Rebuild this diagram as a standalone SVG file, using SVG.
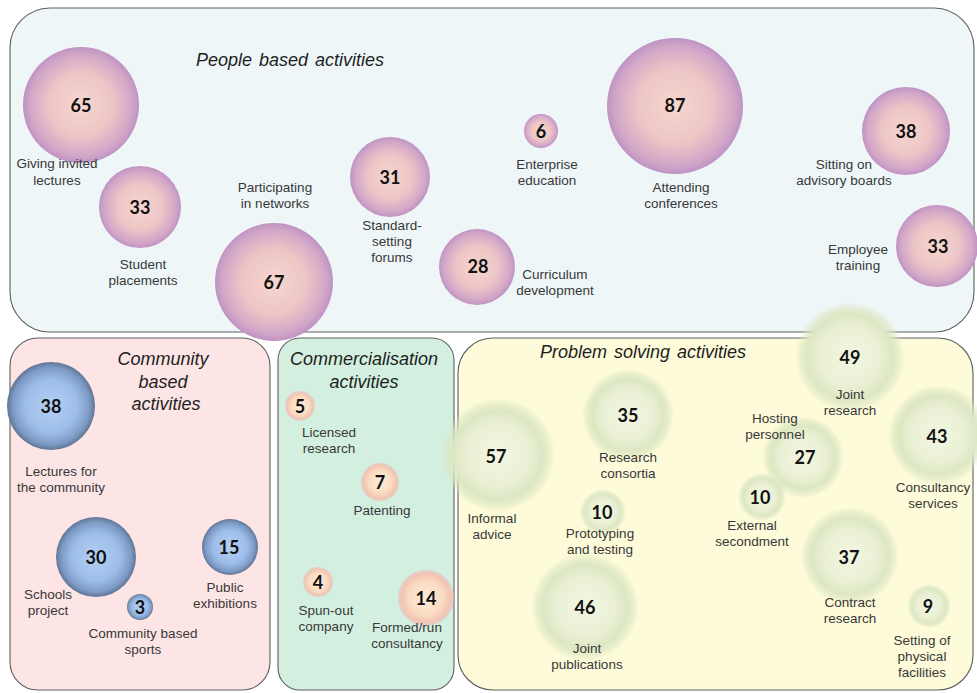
<svg xmlns="http://www.w3.org/2000/svg" width="977" height="693" viewBox="0 0 977 693">
  <defs>
    <radialGradient id="gPeople" cx="0.5" cy="0.5" r="0.5">
      <stop offset="0" stop-color="#f6d6cf"/>
      <stop offset="0.55" stop-color="#edc5c6"/>
      <stop offset="0.88" stop-color="#d2a6c8"/>
      <stop offset="1" stop-color="#bf93c2"/>
    </radialGradient>
    <radialGradient id="gCommunity" cx="0.5" cy="0.5" r="0.5">
      <stop offset="0" stop-color="#b4d0f3"/>
      <stop offset="0.6" stop-color="#9dbde9"/>
      <stop offset="0.88" stop-color="#7c99c4"/>
      <stop offset="1" stop-color="#5f7594"/>
    </radialGradient>
    <radialGradient id="gCommercial" cx="0.5" cy="0.5" r="0.5">
      <stop offset="0" stop-color="#fdecd9"/>
      <stop offset="0.6" stop-color="#fbdcc3"/>
      <stop offset="0.85" stop-color="#f3c6b2"/>
      <stop offset="1" stop-color="#e9bcbc" stop-opacity="0.6"/>
    </radialGradient>
    <radialGradient id="gProblem" cx="0.5" cy="0.5" r="0.5">
      <stop offset="0" stop-color="#f2f6e2"/>
      <stop offset="0.55" stop-color="#eaf0d4"/>
      <stop offset="0.78" stop-color="#dde7c3"/>
      <stop offset="0.9" stop-color="#dbe5c0" stop-opacity="0.55"/>
      <stop offset="1" stop-color="#dbe5c0" stop-opacity="0"/>
    </radialGradient>
  </defs>
  <style>
    .panel { stroke: #5e5e5e; stroke-width: 1.1; }
    .title { font-family: "Liberation Sans", Arial, sans-serif; font-style: italic; font-size: 18px; word-spacing: 2px; fill: #1e1e1e; text-anchor: middle; }
    .num { font-family: Lato, "Open Sans", sans-serif; font-weight: bold; font-size: 18px; fill: #111; text-anchor: middle; }
    .lbl { font-family: "Liberation Sans", Arial, sans-serif; font-size: 13.5px; fill: #383838; text-anchor: middle; }
    .people { fill: url(#gPeople); }
    .community { fill: url(#gCommunity); }
    .commercial { fill: url(#gCommercial); }
    .problem { fill: url(#gProblem); }
  </style>

  <rect width="977" height="693" fill="#ffffff"/>

  <!-- People based activities -->
  <g id="panel-people">
    <rect class="panel" x="10" y="8" width="964" height="324" rx="40" ry="40" fill="#eef6f8"/>
    <text class="title" x="290" y="66">People based activities</text>
  </g>

  <g id="node-invited-lectures">
    <circle class="people" cx="81" cy="105" r="58"/>
    <text class="num" x="81" y="112">65</text>
    <text class="lbl" x="57" y="168">Giving invited</text>
    <text class="lbl" x="57" y="185">lectures</text>
  </g>
  <g id="node-student-placements">
    <circle class="people" cx="140" cy="207" r="41"/>
    <text class="num" x="140" y="214">33</text>
    <text class="lbl" x="143" y="269">Student</text>
    <text class="lbl" x="143" y="285">placements</text>
  </g>
  <g id="node-networks">
    <circle class="people" cx="274" cy="282" r="59"/>
    <text class="num" x="274" y="289">67</text>
    <text class="lbl" x="275" y="192">Participating</text>
    <text class="lbl" x="275" y="208">in networks</text>
  </g>
  <g id="node-standard-setting">
    <circle class="people" cx="390" cy="177" r="40"/>
    <text class="num" x="390" y="184">31</text>
    <text class="lbl" x="392" y="230">Standard-</text>
    <text class="lbl" x="392" y="246">setting</text>
    <text class="lbl" x="392" y="262">forums</text>
  </g>
  <g id="node-curriculum">
    <circle class="people" cx="477" cy="267" r="38"/>
    <text class="num" x="478" y="273">28</text>
    <text class="lbl" x="555" y="279">Curriculum</text>
    <text class="lbl" x="555" y="295">development</text>
  </g>
  <g id="node-enterprise-education">
    <circle class="people" cx="541" cy="131" r="17"/>
    <text class="num" x="541" y="138">6</text>
    <text class="lbl" x="547" y="169">Enterprise</text>
    <text class="lbl" x="547" y="185">education</text>
  </g>
  <g id="node-conferences">
    <circle class="people" cx="675" cy="106" r="68"/>
    <text class="num" x="675" y="112">87</text>
    <text class="lbl" x="681" y="192">Attending</text>
    <text class="lbl" x="681" y="208">conferences</text>
  </g>
  <g id="node-advisory-boards">
    <circle class="people" cx="906" cy="131" r="44"/>
    <text class="num" x="906" y="138">38</text>
    <text class="lbl" x="844" y="169">Sitting on</text>
    <text class="lbl" x="844" y="185">advisory boards</text>
  </g>
  <g id="node-employee-training">
    <circle class="people" cx="937" cy="246" r="41"/>
    <text class="num" x="938" y="253">33</text>
    <text class="lbl" x="858" y="254">Employee</text>
    <text class="lbl" x="858" y="270">training</text>
  </g>

  <!-- Community based activities -->
  <g id="panel-community">
    <rect class="panel" x="10" y="338" width="260" height="352" rx="28" ry="28" fill="#fde5e5"/>
    <text class="title" x="163" y="365">Community</text>
    <text class="title" x="163" y="388">based</text>
    <text class="title" x="166" y="410">activities</text>
  </g>

  <!-- Commercialisation activities -->
  <g id="panel-commercial">
    <rect class="panel" x="278" y="338" width="176" height="352" rx="22" ry="22" fill="#d3efe0"/>
    <text class="title" x="364" y="365">Commercialisation</text>
    <text class="title" x="364" y="388">activities</text>
  </g>

  <!-- Problem solving activities -->
  <g id="panel-problem">
    <rect class="panel" x="458" y="338" width="515" height="352" rx="35" ry="35" fill="#fdfbda"/>
    <text class="title" x="643" y="358">Problem solving activities</text>
  </g>

  <g id="node-community-lectures">
    <circle class="community" cx="51" cy="406" r="44"/>
    <text class="num" x="51" y="413">38</text>
    <text class="lbl" x="61" y="476">Lectures for</text>
    <text class="lbl" x="61" y="492">the community</text>
  </g>
  <g id="node-schools-project">
    <circle class="community" cx="96" cy="557" r="40"/>
    <text class="num" x="96" y="564">30</text>
    <text class="lbl" x="48" y="599">Schools</text>
    <text class="lbl" x="48" y="615">project</text>
  </g>
  <g id="node-public-exhibitions">
    <circle class="community" cx="230" cy="547" r="28"/>
    <text class="num" x="229" y="554">15</text>
    <text class="lbl" x="225" y="592">Public</text>
    <text class="lbl" x="225" y="608">exhibitions</text>
  </g>
  <g id="node-community-sports">
    <circle class="community" cx="140" cy="607" r="13"/>
    <text class="num" x="140" y="614">3</text>
    <text class="lbl" x="143" y="638">Community based</text>
    <text class="lbl" x="143" y="654">sports</text>
  </g>

  <g id="node-licensed-research">
    <circle class="commercial" cx="300" cy="406" r="15"/>
    <text class="num" x="300" y="413">5</text>
    <text class="lbl" x="329" y="437">Licensed</text>
    <text class="lbl" x="329" y="453">research</text>
  </g>
  <g id="node-patenting">
    <circle class="commercial" cx="380" cy="482" r="19"/>
    <text class="num" x="380" y="489">7</text>
    <text class="lbl" x="382" y="515">Patenting</text>
  </g>
  <g id="node-spun-out">
    <circle class="commercial" cx="318" cy="582" r="15"/>
    <text class="num" x="318" y="589">4</text>
    <text class="lbl" x="326" y="615">Spun-out</text>
    <text class="lbl" x="326" y="631">company</text>
  </g>
  <g id="node-consultancy-formed">
    <circle class="commercial" cx="426" cy="598" r="28"/>
    <text class="num" x="426" y="605">14</text>
    <text class="lbl" x="407" y="632">Formed/run</text>
    <text class="lbl" x="407" y="648">consultancy</text>
  </g>

  <g id="node-informal-advice">
    <circle class="problem" cx="498" cy="455" r="57"/>
    <text class="num" x="496" y="463">57</text>
    <text class="lbl" x="492" y="523">Informal</text>
    <text class="lbl" x="492" y="539">advice</text>
  </g>
  <g id="node-research-consortia">
    <circle class="problem" cx="628" cy="415" r="46"/>
    <text class="num" x="628" y="422">35</text>
    <text class="lbl" x="628" y="462">Research</text>
    <text class="lbl" x="628" y="478">consortia</text>
  </g>
  <g id="node-prototyping">
    <circle class="problem" cx="603" cy="512" r="23"/>
    <text class="num" x="602" y="519">10</text>
    <text class="lbl" x="600" y="538">Prototyping</text>
    <text class="lbl" x="600" y="554">and testing</text>
  </g>
  <g id="node-joint-publications">
    <circle class="problem" cx="585" cy="607" r="54"/>
    <text class="num" x="585" y="614">46</text>
    <text class="lbl" x="587" y="653">Joint</text>
    <text class="lbl" x="587" y="669">publications</text>
  </g>
  <g id="node-hosting-personnel">
    <circle class="problem" cx="803" cy="457" r="41"/>
    <text class="num" x="805" y="464">27</text>
    <text class="lbl" x="775" y="423">Hosting</text>
    <text class="lbl" x="775" y="439">personnel</text>
  </g>
  <g id="node-external-secondment">
    <circle class="problem" cx="762" cy="497" r="24"/>
    <text class="num" x="760" y="504">10</text>
    <text class="lbl" x="752" y="530">External</text>
    <text class="lbl" x="752" y="546">secondment</text>
  </g>
  <g id="node-joint-research">
    <circle class="problem" cx="850" cy="357" r="55"/>
    <text class="num" x="850" y="364">49</text>
    <text class="lbl" x="850" y="399">Joint</text>
    <text class="lbl" x="850" y="415">research</text>
  </g>
  <g id="node-consultancy-services">
    <circle class="problem" cx="938" cy="435" r="50"/>
    <text class="num" x="937" y="443">43</text>
    <text class="lbl" x="933" y="492">Consultancy</text>
    <text class="lbl" x="933" y="508">services</text>
  </g>
  <g id="node-contract-research">
    <circle class="problem" cx="850" cy="556" r="49"/>
    <text class="num" x="849" y="564">37</text>
    <text class="lbl" x="850" y="607">Contract</text>
    <text class="lbl" x="850" y="623">research</text>
  </g>
  <g id="node-physical-facilities">
    <circle class="problem" cx="929" cy="606" r="22"/>
    <text class="num" x="928" y="613">9</text>
    <text class="lbl" x="922" y="645">Setting of</text>
    <text class="lbl" x="922" y="661">physical</text>
    <text class="lbl" x="922" y="677">facilities</text>
  </g>
</svg>
